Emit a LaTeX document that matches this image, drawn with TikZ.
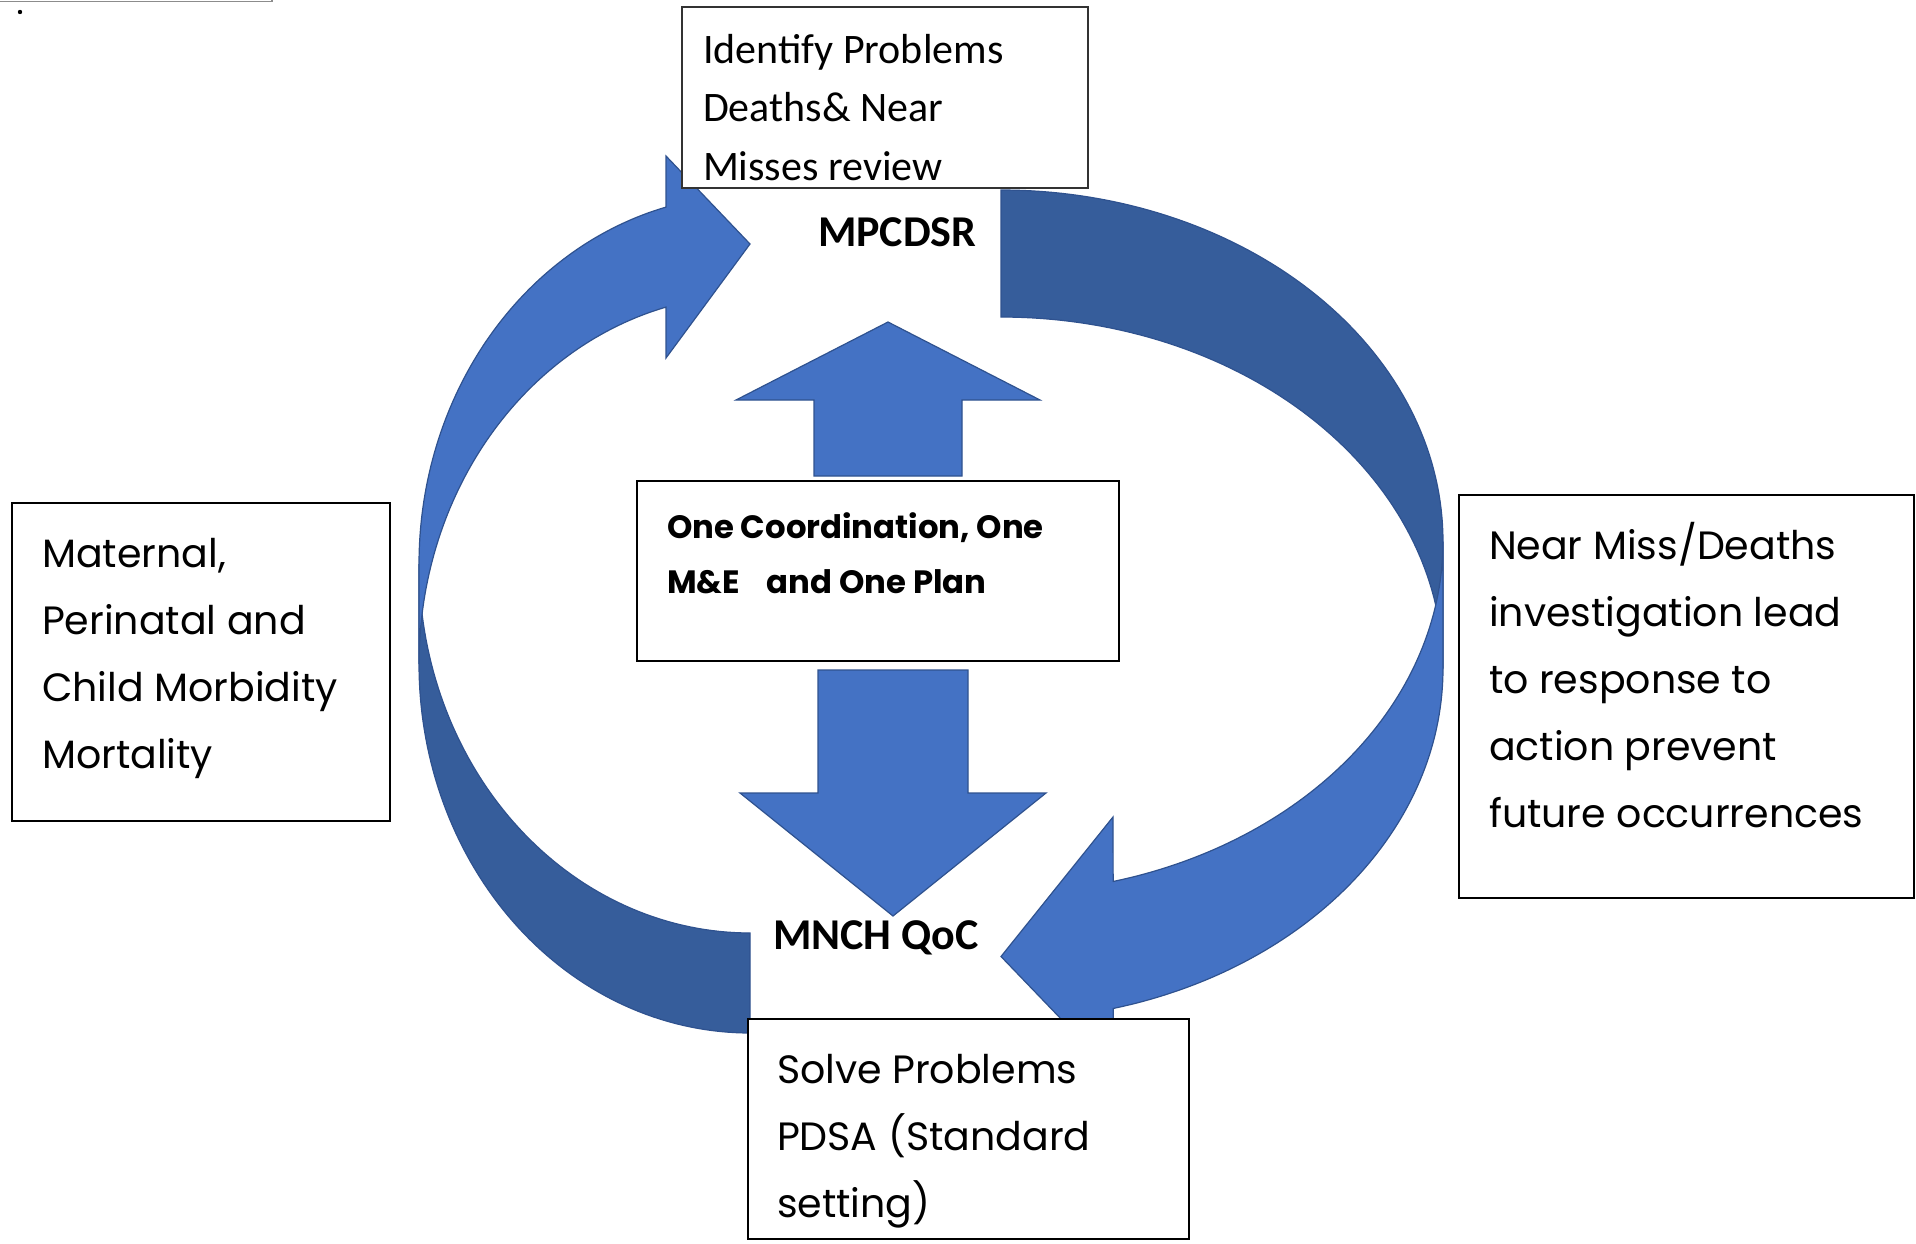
\documentclass[tikz,border=0pt]{standalone}
\usepackage{fontspec}
\newfontfamily\calfont{Carlito}
\newfontfamily\gothfont{Poppins}
\usetikzlibrary{calc}
\definecolor{front}{HTML}{4472C4}
\definecolor{back}{HTML}{365D9B}
\definecolor{edge}{HTML}{2F528F}
% left-aligned block of lines whose baseline is that of the first line
\newcommand\linestack[1]{\vtop{\halign{##\hfil\cr#1\crcr}}}
\tikzset{
  frontshape/.style={fill=front, draw=edge, line width=1.2pt, line join=miter},
  backshape/.style={fill=back, draw=edge, line width=1.2pt, line join=miter},
  thinbox/.style={draw=black!80, line width=1.4pt, fill=white, inner sep=0pt},
  thickbox/.style={draw=black, line width=2.6pt, fill=white, inner sep=0pt},
  txt/.style={anchor=base west, inner sep=0pt, outer sep=0pt},
  caltext/.style={txt, font=\calfont\fontsize{42}{58.5}\selectfont},
  calbold/.style={txt, font=\calfont\bfseries\fontsize{44}{44}\selectfont},
  gothtext/.style={txt, font=\gothfont\fontsize{39.5}{67}\selectfont},
  gothbold/.style={txt, font=\gothfont\bfseries\fontsize{32.3}{55}\selectfont},
}
\begin{document}
\begin{tikzpicture}[x=1pt,y=-1pt]
\useasboundingbox (0,0) rectangle (1916,1244);

% stray marks in the top-left corner
\draw[black!45, line width=1.2pt] (0,1.5) -- (272,1.5) -- (272,0);
\fill[black] (20,12) circle[radius=2.2pt];

% left loop: dark back band, then the front arrow pointing to MPCDSR
\filldraw[backshape]
  plot[domain=90:180, samples=70] ({750+331*cos(\x)},{664+369*sin(\x)})
  -- plot[domain=180:90, samples=70] ({750+331*cos(\x)},{564+369*sin(\x)})
  -- cycle;
\filldraw[frontshape]
  plot[domain=180:255.3, samples=70] ({750+331*cos(\x)},{564+369*sin(\x)})
  -- (666,156) -- (750,244) -- (666,358)
  -- plot[domain=255.3:180, samples=70] ({750+331*cos(\x)},{664+369*sin(\x)})
  -- cycle;

% right loop: dark back band, then the front arrow pointing to MNCH QoC
\filldraw[backshape]
  plot[domain=270:360, samples=70] ({1001+442*cos(\x)},{541.5+351.5*sin(\x)})
  -- plot[domain=360:270, samples=70] ({1001+442*cos(\x)},{668.5+351.5*sin(\x)})
  -- cycle;
\filldraw[frontshape]
  plot[domain=0:75.3, samples=70] ({1001+442*cos(\x)},{668.5+351.5*sin(\x)})
  -- (1113,1073) -- (1001,956.5) -- (1113,817)
  -- plot[domain=75.3:0, samples=70] ({1001+442*cos(\x)},{541.5+351.5*sin(\x)})
  -- cycle;

% block arrows above and below the coordination box
\filldraw[frontshape] (814,476) -- (814,400) -- (736,400) -- (888,322)
  -- (1040,400) -- (962,400) -- (962,476) -- cycle;
\filldraw[frontshape] (818,670) -- (968,670) -- (968,793) -- (1046,793)
  -- (893,916) -- (740,793) -- (818,793) -- cycle;

% boxes
\node[thinbox, minimum width=406pt, minimum height=181pt] (idbox) at (885,97.5) {};
\node[thickbox, minimum width=378pt, minimum height=318pt] (leftbox) at (201,662) {};
\node[thickbox, minimum width=455pt, minimum height=403pt] (rightbox) at (1686.5,696.5) {};
\node[thickbox, minimum width=482pt, minimum height=180pt] (centerbox) at (878,571) {};
\node[thickbox, minimum width=441pt, minimum height=220pt] (solvebox) at (968.5,1129) {};

% box texts
\node[caltext] (idtext) at (703,63.5)
  {\linestack{Identify Problems\cr Deaths\& Near\cr Misses review}};
\node[gothtext] (lefttext) at (42,567)
  {\linestack{Maternal,\cr Perinatal and\cr Child Morbidity\cr Mortality}};
\node[gothtext] (righttext) at (1489,559)
  {\linestack{Near Miss/Deaths\cr investigation lead\cr to response to\cr action prevent\cr future occurrences}};
\node[gothbold] (centertext) at (667,538)
  {\linestack{One Coordination, One\cr M\&E\hspace{20pt} and One Plan}};
\begin{scope}
  \clip ($(solvebox.south west)+(1.3,-1.3)$) rectangle ($(solvebox.north east)+(-1.3,1.3)$);
  \node[gothtext] (solvetext) at (777,1083)
    {\linestack{Solve Problems\cr PDSA (Standard\cr setting)}};
\end{scope}

% cycle labels
\node[calbold] (mpcdsr) at (818,246) {MPCDSR};
\node[calbold] (mnch) at (773,949) {MNCH QoC};
\end{tikzpicture}
\end{document}
